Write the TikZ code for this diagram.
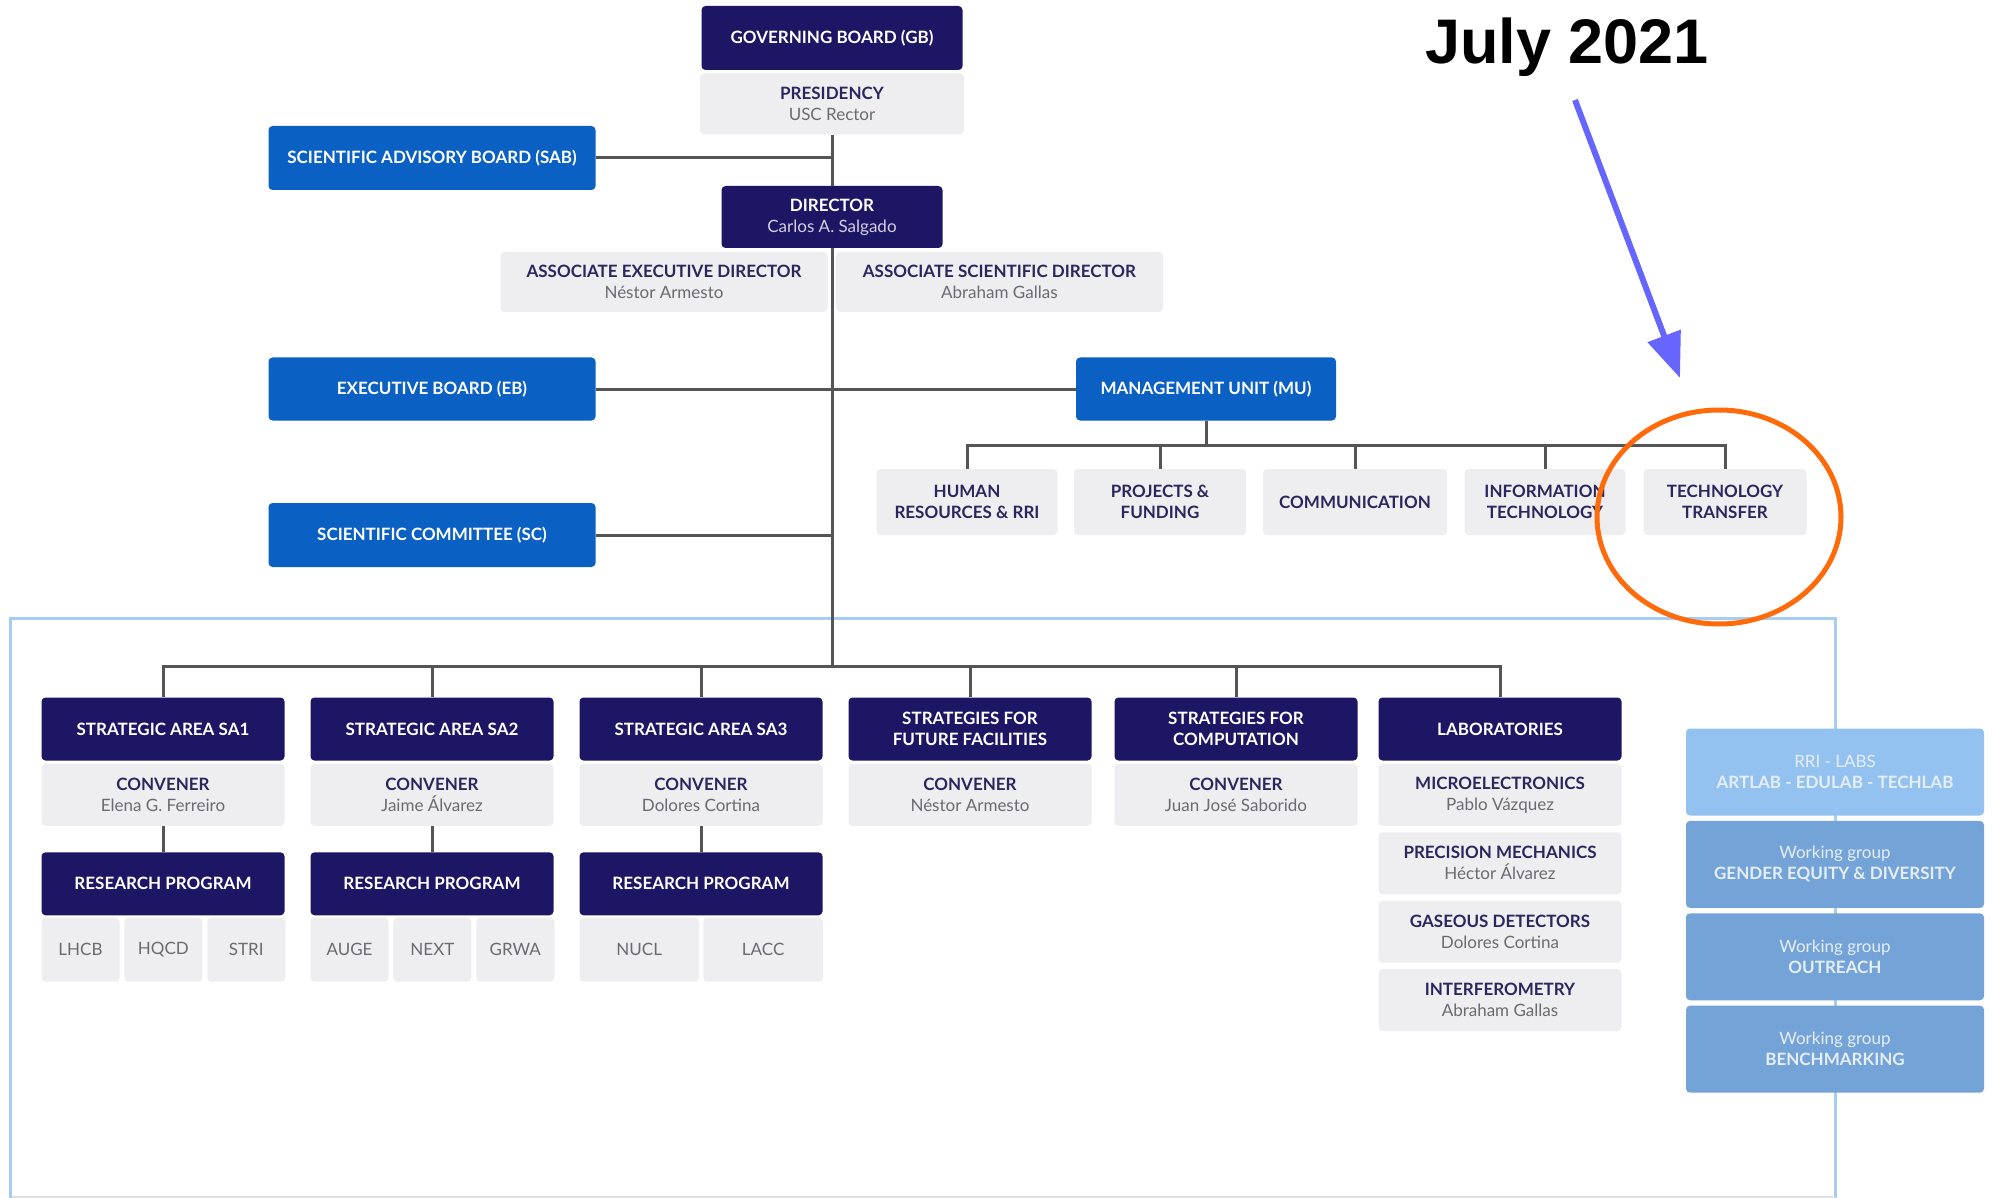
\documentclass[tikz,border=0pt]{standalone}
\usepackage{fontspec}
\setmainfont{Lato}
\newfontfamily\notefont{Liberation Sans}
\usetikzlibrary{positioning,arrows.meta}

\definecolor{navy}{HTML}{1C1664}
\definecolor{ciblue}{HTML}{0B60C4}
\definecolor{boxgray}{HTML}{EEEEF0}
\definecolor{namegray}{HTML}{6A6A72}
\definecolor{titlenavy}{HTML}{2A275E}
\definecolor{linegray}{HTML}{555555}
\definecolor{frameblue}{HTML}{A8CDF2}
\definecolor{paneltop}{HTML}{94C2F0}
\definecolor{panelblue}{HTML}{74A3D8}
\definecolor{arrowblue}{HTML}{6666FF}
\definecolor{circorange}{HTML}{FF6A0A}

\tikzset{
  base/.style={rounded corners=4pt, inner sep=0pt, align=center,
    font=\fontsize{17}{21}\selectfont\bfseries},
  darkbox/.style={base, fill=navy, text=white, minimum width=243, minimum height=63},
  bluebox/.style={base, fill=ciblue, text=white, minimum width=327, minimum height=63},
  graybox/.style={base, fill=boxgray, text=titlenavy, minimum width=243, minimum height=62},
  tagbox/.style={base, fill=boxgray, text=namegray, minimum height=64,
    font=\fontsize{17}{21}\selectfont},
  panelbox/.style={base, fill=panelblue, text=white!82!panelblue,
    minimum width=298, minimum height=87},
  link/.style={draw=linegray, line width=3pt},
}
\newcommand{\who}[1]{\\{\mdseries\color{namegray}#1}}

\begin{document}
\begin{tikzpicture}[x=1pt,y=-1pt]
  \useasboundingbox (0,0) rectangle (1998,1198);
  \fill[white] (0,0) rectangle (1998,1198);

  % Frame round the strategic areas
  \draw[black!12, line width=1.5pt] (12,1197) -- (1833,1197);
  \draw[frameblue, line width=3pt] (10,1198) -- (10,618) -- (1835,618) -- (1835,1198);

  % Governing bodies
  \node[darkbox, minimum width=261, minimum height=64] (gb) at (832,38) {GOVERNING BOARD (GB)};
  \node[graybox, minimum width=264, minimum height=61, below=3pt of gb] (pres) {PRESIDENCY\who{USC Rector}};
  \node[bluebox, minimum height=64] (sab) at (432,158) {SCIENTIFIC ADVISORY BOARD (SAB)};
  \node[darkbox, minimum width=221, minimum height=62] (dir) at (832,217)
    {DIRECTOR\\{\mdseries\color{white!80!navy}Carlos A. Salgado}};
  \node[graybox, minimum width=327, minimum height=60] (aed) at (664,282)
    {ASSOCIATE EXECUTIVE DIRECTOR\who{Néstor Armesto}};
  \node[graybox, minimum width=327, minimum height=60, right=8pt of aed] (asd)
    {ASSOCIATE SCIENTIFIC DIRECTOR\who{Abraham Gallas}};
  \node[bluebox] (eb) at (432,389) {EXECUTIVE BOARD (EB)};
  \node[bluebox, minimum width=260] (mu) at (1206,389) {MANAGEMENT UNIT (MU)};
  \node[bluebox, minimum height=64] (sc) at (432,535) {SCIENTIFIC COMMITTEE (SC)};

  % Management unit
  \node[graybox, minimum width=181, minimum height=66] (hr) at (967,502) {HUMAN\\RESOURCES \& RRI};
  \node[graybox, minimum width=172, minimum height=66] (pf) at (1160,502) {PROJECTS \&\\FUNDING};
  \node[graybox, minimum width=184, minimum height=66] (com) at (1355,502) {COMMUNICATION};
  \node[graybox, minimum width=161, minimum height=66] (it) at (1545,502) {INFORMATION\\TECHNOLOGY};
  \node[graybox, minimum width=163, minimum height=66] (tt) at (1725,502) {TECHNOLOGY\\TRANSFER};

  % Strategic areas
  \node[darkbox] (sa1) at (163,729) {STRATEGIC AREA SA1};
  \node[darkbox] (sa2) at (432,729) {STRATEGIC AREA SA2};
  \node[darkbox] (sa3) at (701,729) {STRATEGIC AREA SA3};
  \node[darkbox] (sff) at (970,729) {STRATEGIES FOR\\FUTURE FACILITIES};
  \node[darkbox] (sfc) at (1236,729) {STRATEGIES FOR\\COMPUTATION};
  \node[darkbox] (lab) at (1500,729) {LABORATORIES};

  \node[graybox, below=3pt of sa1] (con1) {CONVENER\who{Elena G. Ferreiro}};
  \node[graybox, below=3pt of sa2] (con2) {CONVENER\who{Jaime Álvarez}};
  \node[graybox, below=3pt of sa3] (con3) {CONVENER\who{Dolores Cortina}};
  \node[graybox, below=3pt of sff] (con4) {CONVENER\who{Néstor Armesto}};
  \node[graybox, below=3pt of sfc] (con5) {CONVENER\who{Juan José Saborido}};

  \node[darkbox, below=26pt of con1] (rp1) {RESEARCH PROGRAM};
  \node[darkbox, below=26pt of con2] (rp2) {RESEARCH PROGRAM};
  \node[darkbox, below=26pt of con3] (rp3) {RESEARCH PROGRAM};

  \node[tagbox, minimum width=78, anchor=north west] (lhcb) at ([yshift=-2pt]rp1.south west) {LHCB};
  \node[tagbox, minimum width=78, right=4.5pt of lhcb] (hqcd) {HQCD};
  \node[tagbox, minimum width=78, right=4.5pt of hqcd] (stri) {STRI};
  \node[tagbox, minimum width=78, anchor=north west] (auge) at ([yshift=-2pt]rp2.south west) {AUGE};
  \node[tagbox, minimum width=78, right=4.5pt of auge] (next) {NEXT};
  \node[tagbox, minimum width=78, right=4.5pt of next] (grwa) {GRWA};
  \node[tagbox, minimum width=119.5, anchor=north west] (nucl) at ([yshift=-2pt]rp3.south west) {NUCL};
  \node[tagbox, minimum width=119.5, right=4pt of nucl] (lacc) {LACC};

  % Laboratories
  \node[graybox, below=3pt of lab] (micro) {MICROELECTRONICS\who{Pablo Vázquez}};
  \node[graybox, below=6pt of micro] (mech) {PRECISION MECHANICS\who{Héctor Álvarez}};
  \node[graybox, below=6pt of mech] (gas) {GASEOUS DETECTORS\who{Dolores Cortina}};
  \node[graybox, below=6pt of gas] (inter) {INTERFEROMETRY\who{Abraham Gallas}};

  % Working groups
  \node[panelbox, fill=paneltop] (rri) at (1835,772) {{\mdseries RRI - LABS}\\ARTLAB - EDULAB - TECHLAB};
  \node[panelbox, below=5pt of rri] (gend) {{\mdseries Working group}\\GENDER EQUITY \& DIVERSITY};
  \node[panelbox, below=5pt of gend] (outr) {{\mdseries Working group}\\OUTREACH};
  \node[panelbox, below=5pt of outr] (bench) {{\mdseries Working group}\\BENCHMARKING};

  % Connectors
  \draw[link] (pres.south) -- (dir.north);
  \draw[link] (sab.east) -- (sab.east -| pres.south);
  \draw[link] (eb.east) -- (mu.west);
  \draw[link] (sc.east) -- (sc.east -| dir.south);

  \coordinate (unitbar) at (0,445);
  \draw[link] (mu.south) -- (mu.south |- unitbar);
  \draw[link] (hr.north) -- (hr.north |- unitbar) -- (tt.north |- unitbar) -- (tt.north);
  \foreach \u in {pf,com,it}
    \draw[link] (\u.north) -- (\u.north |- unitbar);

  \coordinate (areabar) at (0,666);
  \draw[link] (dir.south) -- (dir.south |- areabar);
  \draw[link] (sa1.north) -- (sa1.north |- areabar) -- (lab.north |- areabar) -- (lab.north);
  \foreach \a in {sa2,sa3,sff,sfc}
    \draw[link] (\a.north) -- (\a.north |- areabar);
  \foreach \i in {1,2,3}
    \draw[link] (con\i.south) -- (rp\i.north);

  % Annotation
  \node[font=\notefont\fontsize{63}{70}\selectfont\bfseries] (date) at (1567,47) {July 2021};
  \coordinate (tip) at (1680,378);
  \draw[arrowblue, line width=6pt, -{Triangle[length=45pt,width=34pt]}] (1575,100) -- (tip);
  \draw[circorange, line width=5pt] (1719,517) ellipse [x radius=122pt, y radius=107pt];
\end{tikzpicture}
\end{document}
